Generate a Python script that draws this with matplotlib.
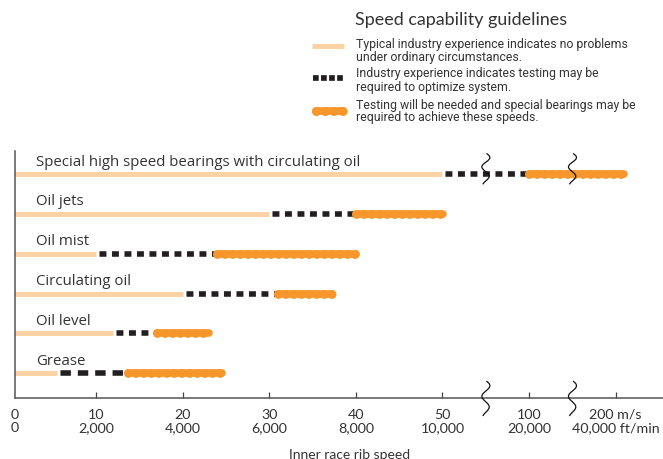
import numpy as np
import matplotlib
matplotlib.use("Agg")
import matplotlib.pyplot as plt

plt.rcParams['lines.scale_dashes'] = False

# ---------------- data ----------------
categories = ["Special high speed bearings with circulating oil", "Oil jets",
              "Oil mist", "Circulating oil", "Oil level", "Grease"]
typical_end = [50, 30, 10, 20, 12, 5.5]        # m/s, end of "no problems" zone
testing_end = [100, 40, 24, 31, 17, 13.75]     # m/s, end of "testing may be required"
special_end = [210, 50.3, 40, 37.2, 23, 24.6]  # m/s, end of "special bearings" zone

tick_ms = [0, 10, 20, 30, 40, 50, 100, 200]
tick_labels = ["0\n0", "10\n2,000", "20\n4,000", "30\n6,000", "40\n8,000",
               "50\n10,000", "100\n20,000", "200 m/s\n40,000 ft/min"]
legend_title = "Speed capability guidelines"
legend_texts = [
    ["Typical industry experience indicates no problems", "under ordinary circumstances."],
    ["Industry experience indicates testing may be", "required to optimize system."],
    ["Testing will be needed and special bearings may be", "required to achieve these speeds."],
]
xlabel = "Inner race rib speed"

# ---------------- styles ----------------
C_LIGHT = "#FDD2A4"
C_BLACK = "#231F20"
C_ORANGE = "#F7962B"
C_TEXT = "#333333"
FONT = ["Lato", "DejaVu Sans"]
FONT_ROW = ["Open Sans", "DejaVu Sans"]
FONT_NARROW = ["Liberation Sans Narrow", "Roboto", "DejaVu Sans"]


def to_pos(v):
    """broken axis: linear 0-50, then 50-100 and 100-200 each compressed to 10 units"""
    v = np.asarray(v, dtype=float)
    return np.where(v <= 50, v,
                    np.where(v <= 100, 50 + (v - 50) / 50 * 10,
                             60 + (v - 100) / 100 * 10))


W, H = 663, 460
fig = plt.figure(figsize=(W / 100, H / 100), dpi=100)
ax_left_px, ax_right_px, ax_bottom_px, ax_top_px = 15, 663, 399, 152
ax = fig.add_axes([ax_left_px / W, (H - ax_bottom_px) / H,
                   (ax_right_px - ax_left_px) / W, (ax_bottom_px - ax_top_px) / H])
px_per_unit = 8.66
x0_px = 9.4
ax.set_xlim((ax_left_px - x0_px) / px_per_unit, (ax_right_px - x0_px) / px_per_unit)
row_px = 39.9
ax.set_ylim(-(ax_bottom_px - 374.3) / row_px, (374.3 - ax_top_px) / row_px)

n = len(categories)
for i, cat in enumerate(categories):
    y = n - 1 - i
    a, b, c = to_pos([typical_end[i], testing_end[i], special_end[i]])
    # light segment
    ax.plot([0, a], [y, y], color=C_LIGHT, lw=3.6, solid_capstyle='butt', zorder=2)
    # black dashed segment
    if cat == "Grease":
        on, off = 7.5, 5.0
    else:
        on, off = 5.0, 4.0
    gap = 2.5
    ax.plot([a, b], [y, y], color=C_BLACK, lw=4.0,
            linestyle=(on + off - gap, (on, off)), dash_capstyle='butt', zorder=3)
    # orange dotted segment
    ax.plot([b, c], [y, y], color=C_ORANGE, lw=5.5, solid_capstyle='round', zorder=4)
    ax.plot([b, c], [y, y], color=C_ORANGE, lw=6.4,
            linestyle=(0, (0.01, 5.5)), dash_capstyle='round', zorder=4)
    ax.text(3.1, y + 0.233, cat, fontsize=10.8, family=FONT_ROW, color=C_TEXT,
            va='baseline', ha='left')

# axes styling
for s in ['top', 'right']:
    ax.spines[s].set_visible(False)
for s in ['left', 'bottom']:
    ax.spines[s].set_color("#555555")
    ax.spines[s].set_linewidth(1.1)
ax.set_yticks([])
tpos = list(to_pos(tick_ms))
tpos[0] = ax.get_xlim()[0]
ax.set_xticks(tpos)
ax.set_xticklabels(tick_labels, fontsize=10.3, family=FONT, color=C_TEXT, linespacing=1.12)
ax.tick_params(axis='x', direction='in', length=4.5, width=0.9, color="#444444", pad=7)
ax.xaxis.get_major_ticks()[0].tick1line.set_visible(False)

# axis break squiggles
def squiggle(xc, yc, height_px):
    t = np.linspace(0, 1, 100)
    yy = yc + (0.5 - t) * height_px / row_px
    xx = xc + (4.3 / px_per_unit) * np.sin(2 * np.pi * 1.6 * t + 0.3) * (1 - 0.25 * t)
    ax.plot(xx, yy, color="#111111", lw=0.9, clip_on=False, zorder=6)

for bp in [55, 65]:
    squiggle(bp, -(399.5 - 374.3) / row_px, 34)
    squiggle(bp, n - 1 + (175 - 170) / row_px, 30)

fig.text(350 / W, (H - 459) / H, xlabel, fontsize=10, family=FONT, color=C_TEXT,
         ha='center', va='baseline')

# ---------------- legend (pixel overlay) ----------------
lax = fig.add_axes([0, 0, 1, 1], facecolor='none')
lax.set_xlim(0, W)
lax.set_ylim(H, 0)
lax.axis('off')
lax.text(355, 25, legend_title, fontsize=12.9, family=FONT, color=C_TEXT,
         ha='left', va='baseline')
baselines = [(47.7, 60.7), (77.3, 90.7), (108.7, 121.0)]
for (b1, b2), lines in zip(baselines, legend_texts):
    lax.text(356, b1, lines[0], fontsize=8.8, family=FONT_NARROW, color=C_TEXT,
             ha='left', va='baseline')
    lax.text(356, b2, lines[1], fontsize=8.8, family=FONT_NARROW, color=C_TEXT,
             ha='left', va='baseline')
lax.plot([311.7, 344], [47.3, 47.3], color=C_LIGHT, lw=3.6, solid_capstyle='butt')
lax.plot([312.7, 343.3], [79, 79], color=C_BLACK, lw=4.1,
         linestyle=(0, (4.1, 1.7)), dash_capstyle='butt')
lax.plot([315.5, 342.5], [111.7, 111.7], color=C_ORANGE, lw=5.5, solid_capstyle='round')
lax.plot([315.5, 342.5], [111.7, 111.7], color=C_ORANGE, lw=6.6,
         linestyle=(0, (0.01, 6.4)), dash_capstyle='round')

fig.savefig("out.png", dpi=100)
